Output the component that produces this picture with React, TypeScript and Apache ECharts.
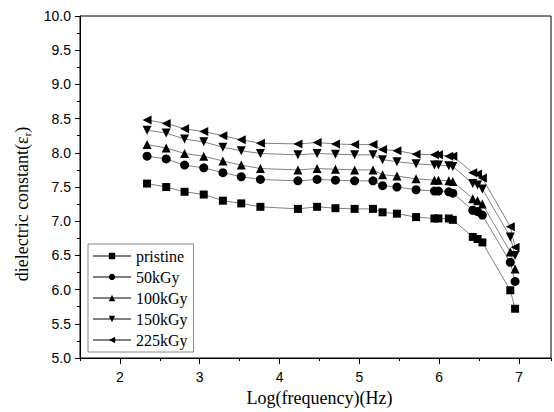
import React, { useEffect, useRef } from "react";
import * as echarts from "echarts";

const logFreq = [2.34, 2.58, 2.81, 3.05, 3.29, 3.52, 3.76, 4.23, 4.47, 4.70, 4.94, 5.17, 5.29, 5.47, 5.71, 5.94, 5.99, 6.12, 6.17, 6.42, 6.48, 6.54, 6.89, 6.95];

const pristine = [7.55, 7.50, 7.43, 7.39, 7.30, 7.26, 7.21, 7.18, 7.21, 7.19, 7.18, 7.18, 7.13, 7.11, 7.06, 7.04, 7.04, 7.04, 7.02, 6.77, 6.74, 6.69, 5.99, 5.72];
const kGy50 = [7.95, 7.91, 7.82, 7.78, 7.71, 7.65, 7.61, 7.59, 7.61, 7.60, 7.59, 7.59, 7.52, 7.50, 7.46, 7.44, 7.44, 7.43, 7.41, 7.16, 7.14, 7.09, 6.40, 6.12];
const kGy100 = [8.12, 8.07, 7.99, 7.95, 7.88, 7.82, 7.77, 7.75, 7.77, 7.76, 7.75, 7.75, 7.68, 7.66, 7.62, 7.60, 7.60, 7.59, 7.58, 7.33, 7.30, 7.25, 6.55, 6.30];
const kGy150 = [8.33, 8.29, 8.20, 8.16, 8.08, 8.03, 7.99, 7.97, 7.99, 7.98, 7.97, 7.97, 7.90, 7.87, 7.84, 7.82, 7.82, 7.81, 7.80, 7.55, 7.53, 7.47, 6.77, 6.50];
const kGy225 = [8.48, 8.43, 8.35, 8.31, 8.25, 8.19, 8.14, 8.13, 8.15, 8.13, 8.12, 8.12, 8.05, 8.03, 7.98, 7.97, 7.97, 7.95, 7.95, 7.71, 7.69, 7.63, 6.92, 6.62];

const seriesNames = ["pristine", "50kGy", "100kGy", "150kGy", "225kGy"];
const seriesValues = [pristine, kGy50, kGy100, kGy150, kGy225];
const symbols = [
  "rect",
  "circle",
  "path://M5,0 L10,10 L0,10 Z",
  "path://M0,0 L10,0 L5,10 Z",
  "path://M0,5 L10,0 L10,10 Z",
];
const symbolSizes = [8, 9, 9, 9, 9];
const majorXTicks = [2, 3, 4, 5, 6, 7];

export default function App() {
  const ref = useRef<HTMLDivElement>(null);
  useEffect(() => {
    if (!ref.current) return;
    const chart = echarts.init(ref.current, null, { renderer: "svg" });
    const serif = "'Liberation Serif', 'DejaVu Serif', serif";
    const sans = "'Liberation Sans', Arial, sans-serif";
    chart.setOption({
      animation: false,
      backgroundColor: "#fff",
      grid: {
        left: 80,
        right: -1,
        top: 16,
        bottom: 54,
        show: true,
        borderColor: "#000",
        borderWidth: 1,
      },
      legend: {
        orient: "vertical",
        left: 88,
        top: 244,
        padding: [4, 6, 4, 4],
        itemWidth: 38,
        itemHeight: 8,
        itemGap: 5,
        backgroundColor: "#fff",
        borderColor: "#888",
        borderWidth: 1,
        textStyle: { fontFamily: serif, fontSize: 16, color: "#000" },
        data: seriesNames,
      },
      graphic: [
        {
          type: "text",
          x: 22,
          y: 204,
          rotation: Math.PI / 2,
          style: {
            text: "dielectric constant(ε{sub|r})",
            fontFamily: serif,
            fontSize: 18,
            fill: "#000",
            align: "center",
            verticalAlign: "middle",
            rich: {
              sub: { fontFamily: serif, fontSize: 11, fill: "#000", padding: [10, 0, 0, 0] },
            },
          },
        },
      ],
      xAxis: [
        {
          type: "value",
          min: 1.5,
          max: 7.4,
          interval: 0.5,
          position: "bottom",
          name: "Log(frequency)(Hz)",
          nameLocation: "middle",
          nameGap: 30,
          nameTextStyle: { fontFamily: serif, fontSize: 18, color: "#000", padding: [0, 0, 0, 8] },
          axisLine: { show: true, lineStyle: { color: "#000", width: 1 } },
          axisTick: { show: true, length: 3, lineStyle: { color: "#000" } },
          axisLabel: {
            margin: 12,
            fontFamily: sans,
            fontSize: 14,
            color: "#000",
            formatter: (v: number) => (Number.isInteger(v) ? String(v) : ""),
          },
          splitLine: { show: false },
        },
        {
          type: "value",
          min: 1.5,
          max: 7.4,
          position: "bottom",
          axisLine: { show: false },
          axisTick: { show: true, length: 6, customValues: majorXTicks, lineStyle: { color: "#000" } },
          axisLabel: { show: false },
          splitLine: { show: false },
        },
      ],
      yAxis: {
        type: "value",
        min: 5,
        max: 10,
        interval: 0.5,
        axisLine: { show: true, lineStyle: { color: "#000", width: 1 } },
        axisTick: { show: true, length: 5, lineStyle: { color: "#000" } },
        minorTick: { show: true, splitNumber: 2, length: 3, lineStyle: { color: "#000" } },
        axisLabel: {
          margin: 9,
          fontFamily: sans,
          fontSize: 14,
          color: "#000",
          formatter: (v: number) => v.toFixed(1),
        },
        splitLine: { show: false },
      },
      series: seriesNames.map((name, i) => ({
        name,
        type: "line",
        xAxisIndex: 0,
        data: logFreq.map((x, j) => [x, seriesValues[i][j]]),
        symbol: symbols[i],
        symbolSize: symbolSizes[i],
        itemStyle: { color: "#000" },
        lineStyle: { color: "#808080", width: 1 },
      })),
    });
    return () => chart.dispose();
  }, []);
  return (
    <div
      ref={ref}
      style={{ position: "fixed", left: 0, top: 0, width: 554, height: 412, background: "#fff" }}
    />
  );
}
